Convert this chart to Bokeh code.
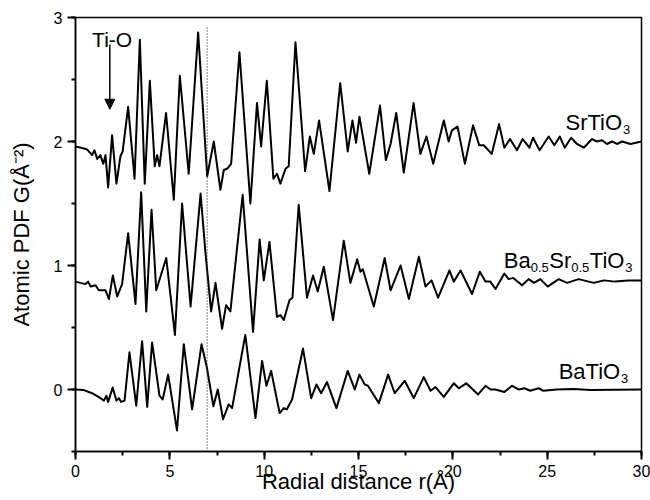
from bokeh.plotting import figure
from bokeh.models import Label, Arrow, NormalHead, ColumnDataSource
from bokeh.embed import file_html
from bokeh.resources import INLINE

# ---------------- data ----------------
r_sto = [0.00, 0.30, 0.62, 0.88, 1.00, 1.15, 1.32, 1.47, 1.59, 1.73, 1.94, 2.17, 2.38, 2.50,
         2.79, 3.13, 3.41, 3.67, 3.94, 4.20, 4.33, 4.45, 4.80, 5.21, 5.53, 6.00, 6.50, 6.98,
         7.33, 7.68, 7.86, 8.03, 8.25, 8.69, 9.27, 9.62, 9.84, 10.14, 10.49, 10.68, 10.86,
         11.13, 11.30, 11.66, 12.17, 12.42, 12.63, 12.91, 13.46, 14.03, 14.43, 14.68, 14.87,
         15.05, 15.57, 16.14, 16.45, 16.70, 17.00, 17.40, 17.92, 18.28, 18.60, 18.96, 19.52,
         19.78, 19.95, 20.25, 20.64, 21.07, 21.40, 21.64, 22.06, 22.45, 22.73, 23.03, 23.40,
         23.70, 24.06, 24.25, 24.60, 25.08, 25.38, 25.67, 25.93, 26.27, 26.58, 26.94, 27.38,
         27.64, 27.91, 28.17, 28.44, 28.70, 28.97, 29.41, 30.00]
g_sto = [1.96, 1.95, 1.935, 1.89, 1.93, 1.86, 1.89, 1.82, 1.89, 1.63, 2.05, 1.66, 1.88, 1.92,
         2.28, 1.70, 2.82, 1.66, 2.49, 1.80, 1.89, 1.80, 2.23, 1.53, 2.53, 1.74, 2.88, 1.72,
         2.00, 1.61, 1.77, 1.78, 1.82, 2.72, 1.50, 2.31, 1.96, 2.49, 1.70, 1.74, 1.66,
         1.78, 1.80, 2.80, 1.76, 2.04, 1.90, 2.17, 1.60, 2.47, 1.92, 2.17, 1.99,
         2.20, 1.74, 2.29, 1.85, 1.98, 2.23, 1.75, 2.31, 1.90, 2.04, 1.82, 2.17,
         2.00, 2.09, 2.12, 1.82, 2.13, 1.97, 1.97, 1.90, 2.14, 1.95, 2.02, 1.93,
         2.02, 1.95, 2.03, 1.93, 2.04, 1.97, 2.04, 1.95, 2.03, 1.98, 1.95, 2.02,
         2.00, 2.01, 1.98, 2.00, 1.98, 2.00, 1.98, 2.00]

r_bst = [0.00, 0.53, 0.67, 0.80, 1.06, 1.24, 1.59, 1.77, 1.98, 2.21, 2.47, 2.79, 3.18, 3.48,
         3.75, 4.03, 4.28, 4.81, 5.27, 5.65, 6.10, 6.63, 6.89, 7.19, 7.42, 7.77, 7.98, 8.21,
         8.86, 9.41, 9.76, 9.98, 10.28, 10.68, 10.86, 11.04, 11.34, 11.50, 11.83, 12.27,
         12.59, 12.84, 13.16, 13.65, 14.22, 14.57, 14.93, 15.10, 15.23, 15.81, 16.39, 16.70,
         17.23, 17.67, 18.20, 18.55, 18.87, 19.22, 19.82, 20.05, 20.41, 21.02, 21.43, 21.73,
         21.99, 22.26, 22.73, 22.96, 23.20, 23.67, 24.02, 24.30, 24.64, 25.03, 25.61, 26.05,
         26.67, 27.47, 28.00, 28.60, 29.30, 30.00]
g_bst = [0.87, 0.85, 0.87, 0.83, 0.84, 0.80, 0.80, 0.73, 0.92, 0.75, 0.85, 1.26, 0.69, 1.59,
         0.63, 1.45, 0.80, 1.06, 0.44, 1.50, 0.67, 1.58, 1.10, 0.63, 0.86, 0.49, 0.68, 0.63,
         1.57, 0.465, 1.21, 0.88, 1.19, 0.585, 0.60, 0.56, 0.72, 0.74, 1.49, 0.74,
         0.92, 0.79, 0.99, 0.56, 1.20, 0.86, 1.05, 0.95, 0.97, 0.67, 1.06, 0.80,
         1.00, 0.73, 1.07, 0.83, 0.88, 0.74, 0.96, 0.87, 0.96, 0.77, 0.95, 0.87,
         0.87, 0.81, 0.935, 0.89, 0.90, 0.84, 0.89, 0.86, 0.89, 0.83, 0.89, 0.86,
         0.89, 0.86, 0.88, 0.87, 0.88, 0.88]

r_bto = [0.00, 0.44, 0.88, 1.33, 1.50, 1.64, 1.73, 1.97, 2.17, 2.30, 2.42, 2.60, 2.86, 3.22,
         3.53, 3.80, 4.06, 4.45, 4.62, 4.91, 5.38, 5.74, 6.18, 6.68, 6.96, 7.31, 7.54, 7.82,
         8.12, 8.30, 9.00, 9.54, 9.89, 10.12, 10.37, 10.82, 11.04, 11.20, 11.48, 12.06,
         12.49, 12.77, 13.02, 13.33, 13.83, 14.43, 14.80, 15.05, 15.33, 15.50, 16.08, 16.57,
         16.92, 17.45, 17.93, 18.46, 18.82, 19.08, 19.52, 20.05, 20.32, 20.71, 21.34, 21.73,
         22.00, 22.26, 22.73, 23.14, 23.50, 23.80, 24.10, 24.55, 24.80, 25.50, 26.40, 27.30,
         30.00]
g_bto = [0.00, -0.005, -0.03, -0.07, -0.09, -0.05, -0.10, 0.016, -0.09, -0.07, -0.10, -0.09,
         0.30, -0.13, 0.39, -0.14, 0.38, -0.05, -0.08, 0.12, -0.33, 0.365, -0.16, 0.365, 0.18,
         -0.135, 0.00, -0.24, -0.12, -0.15, 0.44, -0.23, 0.23, 0.03, 0.15, -0.19, -0.15,
         -0.16, -0.08, 0.33, -0.07, 0.04, -0.03, 0.06, -0.15, 0.15, 0.00, 0.12, 0.04, 0.03,
         -0.11, 0.12, -0.03, 0.07, -0.07, 0.10, -0.01, 0.02, -0.06, 0.05, 0.01, 0.05, -0.04,
         0.03, 0.00, 0.00, -0.02, 0.03, 0.00, 0.01, -0.01, 0.01, -0.01, 0.00, 0.005, -0.005,
         0.00]

x_major = [0, 5, 10, 15, 20, 25, 30]
x_minor = [2.5, 7.5, 12.5, 17.5, 22.5, 27.5]
y_major = [0, 1, 2, 3]
y_minor = [0.5, 1.5, 2.5]

X0, X1, Y0, Y1 = 0, 30, -0.5, 3
dot_r = 6.98          # dotted marker line position
dot_top = 2.92
arrow_r = 1.82        # Ti-O arrow
arrow_from, arrow_to = 2.78, 2.26

FONT = "Liberation Sans"

# ---------------- figure ----------------
p = figure(width=650, height=500, x_range=(X0, X1), y_range=(Y0, Y1),
           output_backend="svg", toolbar_location=None,
           min_border_left=75, min_border_right=9, min_border_top=17, min_border_bottom=49)
p.xgrid.visible = False
p.ygrid.visible = False
p.outline_line_color = "black"
p.outline_line_width = 1.5
p.background_fill_color = "white"

p.xaxis[0].ticker.desired_num_ticks = 6
p.xaxis[0].ticker.num_minor_ticks = 2
p.yaxis[0].ticker.desired_num_ticks = 4
p.yaxis[0].ticker.num_minor_ticks = 2

for ax in (p.xaxis[0], p.yaxis[0]):
    ax.axis_line_width = 1.5
    ax.axis_line_color = "black"
    ax.major_tick_line_width = 2
    ax.minor_tick_line_width = 2
    ax.major_tick_line_color = "black"
    ax.minor_tick_line_color = "black"
    ax.major_tick_in = 0
    ax.major_tick_out = 8
    ax.minor_tick_out = 4
    ax.major_label_text_font = FONT
    ax.major_label_text_font_size = "16px"
    ax.major_label_text_color = "black"
    ax.axis_label_text_font = FONT
    ax.axis_label_text_font_size = "22px"
    ax.axis_label_text_font_style = "normal"
    ax.axis_label_text_color = "black"

p.xaxis.axis_label = "Radial distance r(Å)"
p.yaxis.axis_label = "Atomic PDF G(Å⁻²)"
p.xaxis.axis_label_standoff = -11
p.yaxis.axis_label_standoff = 17

# outward tick marks as head-less arrow annotations (pixel lengths converted to data units)
px_x = (X1 - X0) / 566.0
px_y = (Y1 - Y0) / 434.0
tx0 = x_major + x_minor
tx1 = x_major + x_minor
ty0 = [Y0] * len(x_major) + [Y0] * len(x_minor)
ty1 = [Y0 - 8 * px_y] * len(x_major) + [Y0 - 4 * px_y] * len(x_minor)
tx0 += [X0] * (len(y_major) + len(y_minor))
tx1 += [X0 - 8 * px_x] * len(y_major) + [X0 - 4 * px_x] * len(y_minor)
ty0 += y_major + y_minor
ty1 += y_major + y_minor
tick_src = ColumnDataSource(dict(x0=tx0, y0=ty0, x1=tx1, y1=ty1))
p.add_layout(Arrow(end=None, x_start="x0", y_start="y0", x_end="x1", y_end="y1",
                   source=tick_src, line_width=1.5, line_color="black"))

# curves
for rr, gg in ((r_sto, g_sto), (r_bst, g_bst), (r_bto, g_bto)):
    p.line(rr, gg, line_color="black", line_width=2.0, line_join="round")

# dotted vertical line
p.segment(x0=[dot_r], y0=[Y0], x1=[dot_r], y1=[dot_top],
          line_color="#333333", line_width=1.2, line_dash="1 2")

# Ti-O arrow and label
p.add_layout(Arrow(end=NormalHead(size=10, fill_color="black", line_color="black"),
                   x_start=arrow_r, y_start=arrow_from, x_end=arrow_r, y_end=arrow_to,
                   line_width=1.5, line_color="black"))
p.add_layout(Label(x=1.94, y=2.82, text="Ti-O", text_align="center", text_baseline="alphabetic",
                   text_font=FONT, text_font_size="21px", text_color="black"))

# formula labels with subscripts
W = {'S': .667, 'r': .333, 'T': .611, 'i': .222, 'O': .778, 'B': .667, 'a': .556,
     '0': .556, '.': .278, '5': .556, '3': .556}


def formula(x, y, parts, size=22, sub=13, drop=0.056):
    off = 0.0
    for txt, is_sub in parts:
        fs = sub if is_sub else size
        p.add_layout(Label(x=x, y=y - (drop if is_sub else 0.0), x_offset=off, text=txt,
                           text_font=FONT, text_font_size=f"{fs}px", text_color="black",
                           text_baseline="alphabetic", text_align="left"))
        off += sum(W[c] for c in txt) * fs + (0.5 if is_sub else 0.0)


formula(25.97, 2.15, [("SrTiO", False), ("3", True)])
formula(22.70, 1.04, [("Ba", False), ("0.5", True), ("Sr", False), ("0.5", True),
                      ("TiO", False), ("3", True)])
formula(25.61, 0.142, [("BaTiO", False), ("3", True)])

open("out.html", "w").write(file_html(p, INLINE))
